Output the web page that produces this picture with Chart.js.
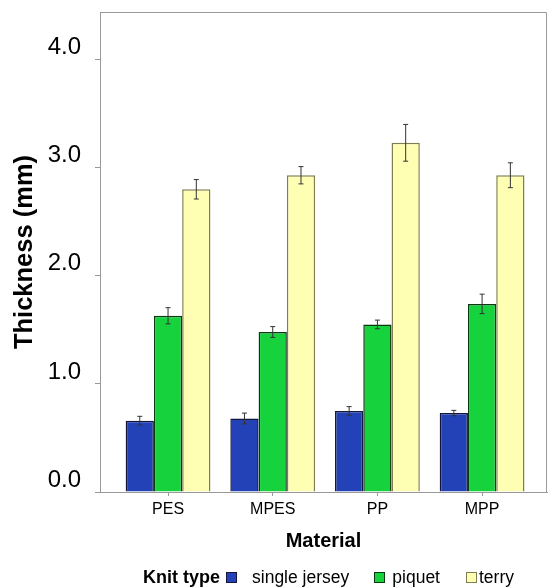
<!DOCTYPE html>
<html>
<head>
<meta charset="utf-8">
<title>Thickness by material</title>
<script src="https://cdn.jsdelivr.net/npm/chart.js@4.4.1/dist/chart.umd.min.js"></script>
<style>
  body { margin: 0; background: #fff; }
  #wrap { position: absolute; left: 0; top: 0; width: 548px; height: 587px; }
  #legend {
    position: absolute; left: 143px; top: 566px; height: 22px;
    display: flex; align-items: center;
    font-family: 'Liberation Sans', Arial, sans-serif; font-size: 17.5px; color: #000;
  }
  #legend b { font-size: 18px; margin-right: 6px; }
  #legend .box { width: 9px; height: 9px; }
  #legend .item { display: flex; align-items: center; }
</style>
</head>
<body>
<div id="wrap"><canvas id="myChart"></canvas></div>
<div id="legend"><b>Knit type</b></div>
<script>
// data
var materials = ['PES', 'MPES', 'PP', 'MPP'];
var knitTypes = ['single jersey', 'piquet', 'terry'];
var singleJersey = [0.66, 0.68, 0.75, 0.73];
var singleJerseyErr = [0.04, 0.05, 0.04, 0.025];
var piquet = [1.63, 1.48, 1.55, 1.74];
var piquetErr = [0.075, 0.05, 0.04, 0.09];
var terry = [2.80, 2.93, 3.23, 2.93];
var terryErr = [0.09, 0.08, 0.17, 0.115];
var yTicks = [0, 1, 2, 3, 4];

var fills = ['#2342b8', '#16d23c', '#ffffb4'];
var borders = ['#14163c', '#0a3a12', '#7e7e50'];
var values = [singleJersey, piquet, terry];
var errors = [singleJerseyErr, piquetErr, terryErr];

Chart.defaults.font.family = "'Liberation Sans', Arial, sans-serif";
Chart.defaults.color = '#000';

// error bars, drawn on top of the bars using the y scale
var errorBars = {
  id: 'errorBars',
  afterDatasetsDraw: function (chart) {
    var ctx = chart.ctx, y = chart.scales.y;
    ctx.save();
    ctx.strokeStyle = '#333';
    ctx.lineWidth = 1;
    chart.data.datasets.forEach(function (ds, i) {
      var meta = chart.getDatasetMeta(i);
      meta.data.forEach(function (bar, j) {
        var v = ds.data[j].y, e = ds.err[j];
        var top = y.getPixelForValue(v + e), bot = y.getPixelForValue(v - e);
        ctx.beginPath();
        ctx.moveTo(bar.x, top); ctx.lineTo(bar.x, bot);
        ctx.moveTo(bar.x - 2.5, top); ctx.lineTo(bar.x + 2.5, top);
        ctx.moveTo(bar.x - 2.5, bot); ctx.lineTo(bar.x + 2.5, bot);
        ctx.stroke();
      });
    });
    ctx.restore();
  }
};

// top and right lines of the frame
var frame = {
  id: 'frame',
  afterDraw: function (chart) {
    var a = chart.chartArea, ctx = chart.ctx;
    ctx.save();
    ctx.strokeStyle = '#999';
    ctx.lineWidth = 1;
    ctx.beginPath();
    ctx.moveTo(a.left, a.top + 0.5); ctx.lineTo(a.right - 0.5, a.top + 0.5); ctx.lineTo(a.right - 0.5, a.bottom);
    ctx.stroke();
    ctx.restore();
  }
};

var ctx = document.getElementById('myChart').getContext('2d');
var chart = new Chart(ctx, {
  type: 'bar',
  data: {
    datasets: knitTypes.map(function (name, i) {
      return {
        label: name,
        data: values[i].map(function (v, j) { return { x: j, y: v }; }),
        err: errors[i],
        backgroundColor: fills[i],
        borderColor: borders[i],
        borderWidth: 1.5,
        categoryPercentage: 0.81,
        barPercentage: 1.0
      };
    })
  },
  options: {
    responsive: true,
    maintainAspectRatio: false,
    animation: false,
    layout: { padding: { top: 12, right: 1, bottom: 30, left: 0 } },
    plugins: { legend: { display: false }, tooltip: { enabled: false } },
    scales: {
      x: {
        type: 'linear',
        offset: false,
        min: -0.65,
        max: 3.62,
        afterBuildTicks: function (s) { s.ticks = materials.map(function (m, i) { return { value: i }; }); },
        afterFit: function (s) { s.height = 65; s.paddingLeft = 0; s.paddingRight = 0; },
        ticks: {
          callback: function (v) { return materials[v]; },
          font: { size: 16 },
          padding: 4,
          maxRotation: 0
        },
        grid: { offset: false, drawOnChartArea: false, drawTicks: true, tickLength: 4, color: '#999' },
        border: { color: '#999' },
        title: { display: true, text: 'Material', font: { size: 20, weight: 'bold' }, padding: { top: 0, bottom: 4 } }
      },
      y: {
        min: 0,
        max: 4.44,
        afterBuildTicks: function (s) { s.ticks = yTicks.map(function (v) { return { value: v }; }); },
        afterFit: function (s) { s.width = 100; s.paddingTop = 0; s.paddingBottom = 0; },
        ticks: {
          callback: function (v) { return v.toFixed(1); },
          font: { size: 24 },
          padding: 14,
          labelOffset: -12
        },
        grid: { drawOnChartArea: false, drawTicks: true, tickLength: 5, color: '#999' },
        border: { color: '#999' },
        title: { display: true, text: 'Thickness (mm)', font: { size: 25.5, weight: 'bold' }, padding: { top: 10, bottom: 0 } }
      }
    }
  },
  plugins: [errorBars, frame]
});

// legend row with the knit type title in front
var boxGap = [15, 7, 2];
var itemGap = [25, 26, 0];
var legend = document.getElementById('legend');
chart.data.datasets.forEach(function (ds, i) {
  var item = document.createElement('span');
  item.className = 'item';
  item.style.marginRight = itemGap[i] + 'px';
  var box = document.createElement('span');
  box.className = 'box';
  box.style.background = ds.backgroundColor;
  box.style.border = '1px solid ' + ds.borderColor;
  box.style.marginRight = boxGap[i] + 'px';
  item.appendChild(box);
  item.appendChild(document.createTextNode(ds.label));
  legend.appendChild(item);
});
</script>
</body>
</html>
